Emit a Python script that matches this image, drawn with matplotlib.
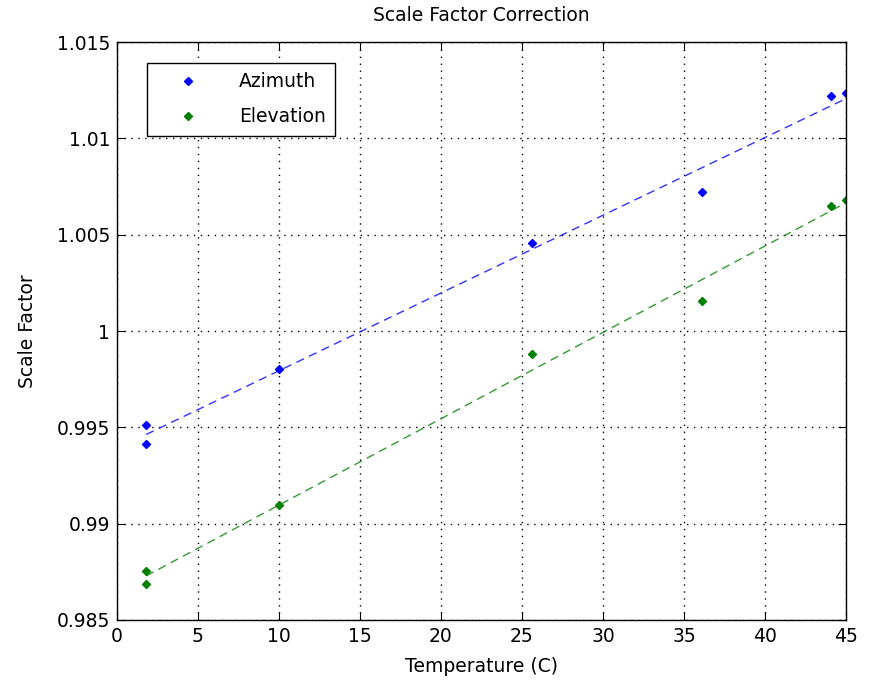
import numpy as np
import matplotlib.pyplot as plt

plt.rcParams['font.family'] = ['DejaVu Sans']

# Temperatures (C) where scale factors were measured
temp = [1.8, 1.8, 10.0, 25.6, 36.1, 44.1, 45.0]
azimuth = [0.99512, 0.99415, 0.99805, 1.00455, 1.00722, 1.01222, 1.01235]
elevation = [0.98755, 0.98685, 0.99097, 0.99883, 1.00158, 1.00647, 1.00682]

xticks = np.arange(0, 46, 5)
yticks = [0.985, 0.99, 0.995, 1.0, 1.005, 1.01, 1.015]
ytick_labels = ["0.985", "0.99", "0.995", "1", "1.005", "1.01", "1.015"]

blue = (0, 0, 1)
green = (0, 0.5, 0)
fs = 13.5

fig = plt.figure(figsize=(8.71, 6.81), dpi=100)
ax = fig.add_axes([0.1343, 0.0896, 0.8370, 0.8487])

ax.plot(temp, azimuth, "D", color=blue, ms=4.5, label="Azimuth")
ax.plot(temp, elevation, "D", color=green, ms=4.5, label="Elevation")

# linear fits, drawn over the measured range
xs = np.array([min(temp), max(temp)])
for vals, c in [(azimuth, blue), (elevation, green)]:
    p = np.polyfit(temp, vals, 1)
    ax.plot(xs, np.polyval(p, xs), color=c, ls=(0, (6, 4)), lw=1, alpha=0.8)

ax.set_xlim(0, 45)
ax.set_ylim(0.985, 1.015)
ax.set_xticks(xticks)
ax.set_yticks(yticks)
ax.set_yticklabels(ytick_labels)
ax.tick_params(direction="in", top=True, right=True, length=6, labelsize=fs, pad=5)
ax.grid(True, color="black", ls=(0, (1, 4)), lw=1)
for s in ax.spines.values():
    s.set_linewidth(1)

ax.set_xlabel("Temperature (C)", fontsize=fs, labelpad=8)
ax.set_ylabel("Scale Factor", fontsize=fs, labelpad=14)
ax.set_title("Scale Factor Correction", fontsize=fs, pad=15)

leg = ax.legend(loc="upper left", bbox_to_anchor=(0.041, 0.964), borderaxespad=0,
                fontsize=fs, fancybox=False, edgecolor="black", framealpha=1,
                handletextpad=1.0, borderpad=0.5, labelspacing=0.85, handlelength=3.4)
leg.get_frame().set_linewidth(1)

fig.savefig("out.png", dpi=100)
